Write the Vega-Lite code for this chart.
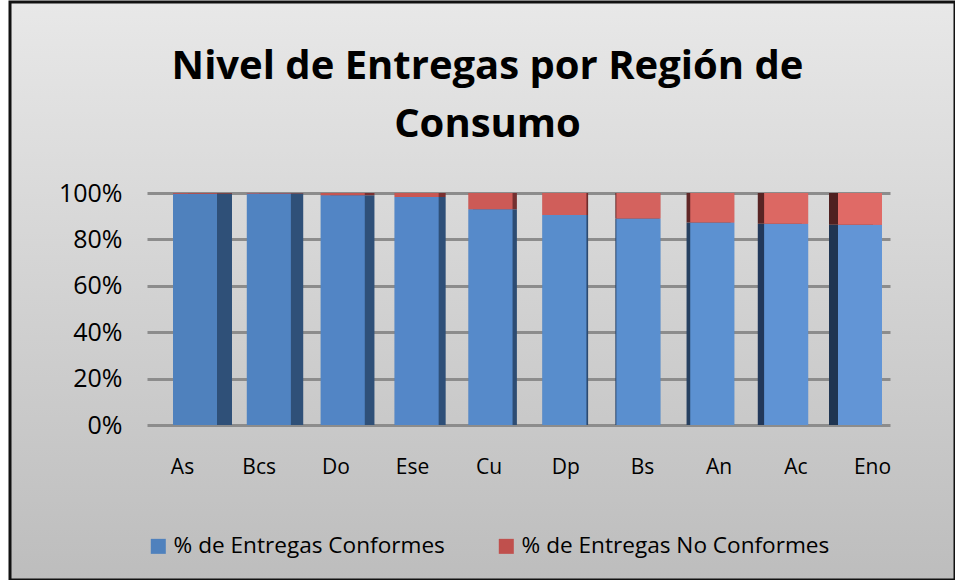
{
"$schema":"https://vega.github.io/schema/vega-lite/v6.json",
"autosize":"none",
"padding":{"left":10,"top":2,"right":0,"bottom":0},
"width":945,"height":578,
"background":"#ffffff",
"view":{"fill":{"gradient":"linear","x1":0,"y1":0,"x2":0,"y2":1,"stops":[{"offset":0,"color":"#e8e8e8"},{"offset":1,"color":"#bdbdbd"}]},"stroke":"#111111","strokeWidth":3},
"title":{"text":["Nivel de Entregas por Región de","Consumo"],"font":"Open Sans","fontSize":40,"fontWeight":"bold","color":"#000000","anchor":"middle","frame":"group","baseline":"top","offset":-143,"lineHeight":58,"dx":5},
"data":{"values":[
{"region":"As","series":"% de Entregas Conformes","pct":99.7},{"region":"As","series":"% de Entregas No Conformes","pct":0.3},
{"region":"Bcs","series":"% de Entregas Conformes","pct":99.8},{"region":"Bcs","series":"% de Entregas No Conformes","pct":0.2},
{"region":"Do","series":"% de Entregas Conformes","pct":99},{"region":"Do","series":"% de Entregas No Conformes","pct":1},
{"region":"Ese","series":"% de Entregas Conformes","pct":98.3},{"region":"Ese","series":"% de Entregas No Conformes","pct":1.7},
{"region":"Cu","series":"% de Entregas Conformes","pct":93},{"region":"Cu","series":"% de Entregas No Conformes","pct":7},
{"region":"Dp","series":"% de Entregas Conformes","pct":90.5},{"region":"Dp","series":"% de Entregas No Conformes","pct":9.5},
{"region":"Bs","series":"% de Entregas Conformes","pct":89},{"region":"Bs","series":"% de Entregas No Conformes","pct":11},
{"region":"An","series":"% de Entregas Conformes","pct":87.3},{"region":"An","series":"% de Entregas No Conformes","pct":12.7},
{"region":"Ac","series":"% de Entregas Conformes","pct":86.7},{"region":"Ac","series":"% de Entregas No Conformes","pct":13.3},
{"region":"Eno","series":"% de Entregas Conformes","pct":86.3},{"region":"Eno","series":"% de Entregas No Conformes","pct":13.7}
]},
"transform":[{"stack":"pct","groupby":["region"],"sort":[{"field":"series","order":"ascending"}],"as":["y0","y1"]}],
"resolve":{"scale":{"x":"independent","color":"independent"}},
"layer":[
{"mark":{"type":"bar","size":44,"opacity":0},
 "encoding":{
  "x":{"field":"region","type":"nominal","sort":null,"axis":null,"scale":{"type":"point","padding":0,"range":[137,880]}},
  "y":{"field":"y0","type":"quantitative","scale":{"domain":[0,100],"range":[423,191]},
       "axis":{"title":null,"values":[0,20,40,60,80,100],"labelExpr":"datum.value+'%'","labelFont":"Open Sans","labelFontSize":25,"labelColor":"#000000","labelPadding":-112,"ticks":false,"domain":false,"grid":true,"gridColor":"#8c8c8c","gridWidth":3}},
  "y2":{"field":"y1"}}},
{"mark":{"type":"bar","size":44,"opacity":0},
 "encoding":{
  "x":{"field":"region","type":"nominal","sort":null,"scale":{"type":"point","padding":0,"range":[172,862]},
       "axis":{"title":null,"labelAngle":0,"labelFont":"Open Sans","labelFontSize":21,"labelColor":"#000000","domain":false,"ticks":false,"grid":false,"labelPadding":-124,"labelBaseline":"top"}},
  "y":{"field":"y0","type":"quantitative"},"y2":{"field":"y1"}}},
{"mark":{"type":"bar","size":44},
 "encoding":{
  "x":{"field":"region","type":"nominal","sort":null,"axis":null,"scale":{"type":"point","padding":0,"range":[185,850]}},
  "y":{"field":"y0","type":"quantitative"},"y2":{"field":"y1"},
  "color":{"field":"series","type":"nominal","scale":{"domain":["% de Entregas Conformes","% de Entregas No Conformes"],"range":["#4f81bd","#c0504d"]},
    "legend":{"title":null,"orient":"none","legendX":137,"legendY":533,"direction":"horizontal","columns":2,"symbolType":"square","symbolSize":225,"symbolStrokeWidth":0,"symbolOpacity":1,"labelFont":"Open Sans","labelFontSize":22.6,"labelColor":"#000000","columnPadding":50,"labelOffset":4,"labelLimit":400}}}},
{"transform":[{"filter":"datum.series=='% de Entregas Conformes'"}],
 "mark":{"type":"bar","size":44},
 "encoding":{
  "x":{"field":"region","type":"nominal","sort":null,"axis":null,"scale":{"type":"point","padding":0,"range":[185,850]}},
  "xOffset":{"field":"region","type":"nominal","sort":null,"scale":{"type":"point","padding":0,"range":[15,-9]}},
  "y":{"field":"y0","type":"quantitative"},"y2":{"field":"y1"},
  "color":{"field":"region","type":"nominal","sort":null,"legend":null,"scale":{"domain":["As","Bcs","Do","Ese","Cu","Dp","Bs","An","Ac","Eno"],"range":["#2f5078","#2f5078","#2f5078","#2e4f78","#2d4c73","#2c4a70","#2a456b","#264060","#22385a","#1f3552"]}}}},
{"transform":[{"filter":"datum.series!='% de Entregas Conformes'"}],
 "mark":{"type":"bar","size":44},
 "encoding":{
  "x":{"field":"region","type":"nominal","sort":null,"axis":null,"scale":{"type":"point","padding":0,"range":[185,850]}},
  "xOffset":{"field":"region","type":"nominal","sort":null,"scale":{"type":"point","padding":0,"range":[15,-9]}},
  "y":{"field":"y0","type":"quantitative"},"y2":{"field":"y1"},
  "color":{"field":"region","type":"nominal","sort":null,"legend":null,"scale":{"domain":["As","Bcs","Do","Ese","Cu","Dp","Bs","An","Ac","Eno"],"range":["#7a3030","#7a3030","#7a3030","#7a3030","#743030","#6e2c2c","#682a2a","#602626","#582424","#4f2020"]}}}},
{"transform":[{"filter":"datum.series=='% de Entregas Conformes'"}],
 "mark":{"type":"bar","size":44},
 "encoding":{
  "x":{"field":"region","type":"nominal","sort":null,"axis":null,"scale":{"type":"point","padding":0,"range":[185,850]}},
  "y":{"field":"y0","type":"quantitative"},"y2":{"field":"y1"},
  "color":{"field":"region","type":"nominal","sort":null,"legend":null,"scale":{"domain":["As","Bcs","Do","Ese","Cu","Dp","Bs","An","Ac","Eno"],"range":["#4f81bd","#5083c1","#5285c5","#5487c8","#568aca","#588dcc","#5a8fcf","#5c91d1","#5f93d4","#6295d6"]}}}},
{"transform":[{"filter":"datum.series!='% de Entregas Conformes'"}],
 "mark":{"type":"bar","size":44},
 "encoding":{
  "x":{"field":"region","type":"nominal","sort":null,"axis":null,"scale":{"type":"point","padding":0,"range":[185,850]}},
  "y":{"field":"y0","type":"quantitative"},"y2":{"field":"y1"},
  "color":{"field":"region","type":"nominal","sort":null,"legend":null,"scale":{"domain":["As","Bcs","Do","Ese","Cu","Dp","Bs","An","Ac","Eno"],"range":["#c0504d","#c2524f","#c55551","#c85753","#cc5a56","#d05e5a","#d4625e","#d86560","#dc6863","#e06a66"]}}}}
]
}
